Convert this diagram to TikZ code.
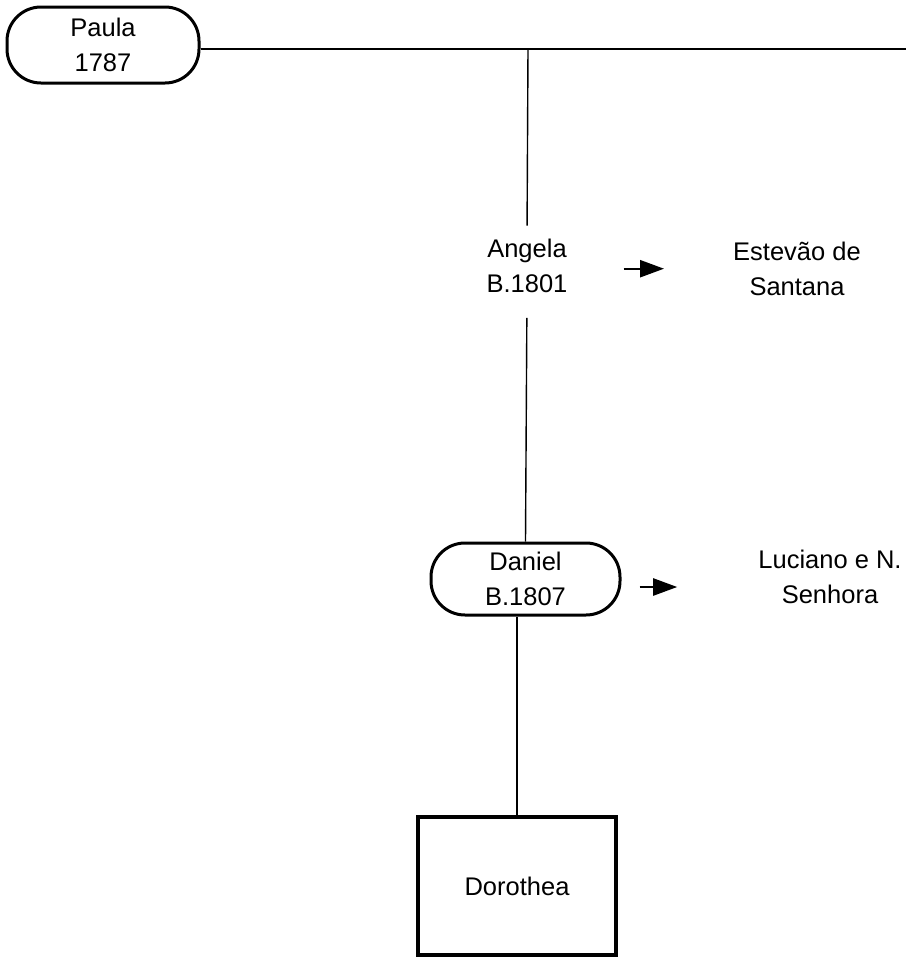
\documentclass[tikz,border=0pt]{standalone}
\usepackage{fontspec}
\setmainfont{Liberation Sans}
\usetikzlibrary{arrows.meta}
\begin{document}
\begin{tikzpicture}[x=1pt,y=-1pt,
  every node/.style={font=\fontsize{25.5}{35}\selectfont, align=center, inner sep=0pt},
  person/.style={draw, line width=3pt, rounded corners=34pt},
  plain/.style={},
  closebox/.style={draw, line width=3.5pt, minimum width=198pt, minimum height=138pt},
  link/.style={line width=1.4pt},
  marry/.style={line width=2.4pt, -{Triangle[length=24pt,width=17pt]}}]
\useasboundingbox[fill=white] (0,0) rectangle (906,967);

% people
\node[person, minimum width=192pt, minimum height=76pt] (paula) at (103,45) {Paula\\1787};
\node[plain] (angela) at (527,265.7) {Angela\\B.1801};
\node[plain] (estevao) at (797,268.7) {Estevão de\\Santana};
\node[person, minimum width=189pt, minimum height=72pt] (daniel) at (525.5,579) {Daniel\\B.1807};
\node[plain] (luciano) at (830,577) {Luciano e N.\\Senhora};
\node[closebox] (dorothea) at (517,886) {Dorothea};

% family lines
\coordinate (rightend) at (906,49);
\coordinate (junction) at (528,49);
\draw[link] (paula.east |- rightend) -- (rightend);
\draw[link, shorten >=13pt] (junction) -- (angela.north);
\draw[link, shorten <=25pt] (angela.south) -- (daniel.north);
\draw[link] (dorothea.north |- daniel.south) -- (dorothea.north);

% marriages
\draw[marry, shorten <=56pt, shorten >=69pt] (angela.east |- estevao.center) -- (estevao.west);
\draw[marry, shorten <=18pt, shorten >=81pt] ([yshift=-8pt]daniel.east) -- ([yshift=-8pt]luciano.west |- daniel.east);
\end{tikzpicture}
\end{document}
